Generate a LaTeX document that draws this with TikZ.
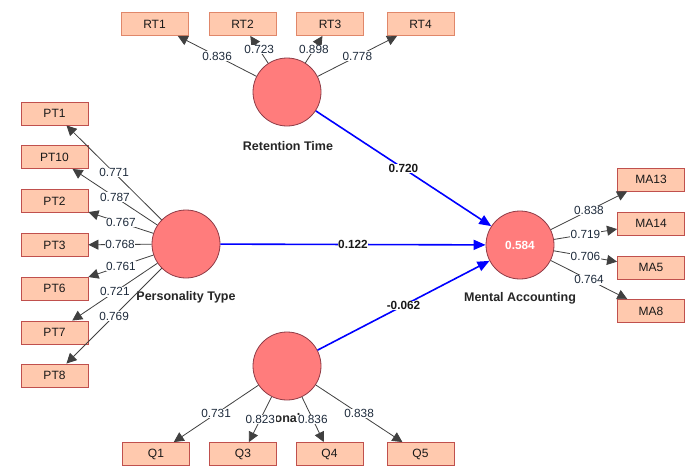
\documentclass[tikz,border=0pt]{standalone}
\usepackage{fontspec}
\setmainfont{Liberation Sans}
\usetikzlibrary{arrows.meta}
\definecolor{circfill}{HTML}{FF7C7C}
\definecolor{circdraw}{HTML}{8E3B46}
\definecolor{boxfill}{HTML}{FFC9AE}
\definecolor{boxdraw}{HTML}{C0504D}
\definecolor{rtdraw}{HTML}{E0876A}
\definecolor{numcol}{HTML}{1E2B3C}
\definecolor{pathblue}{HTML}{0000FF}
\begin{document}
\begin{tikzpicture}[x=1pt,y=-1pt,
  lv/.style={circle, draw=circdraw, fill=circfill, line width=0.8pt, minimum size=68pt, inner sep=0pt},
  ind/.style={rectangle, draw=boxdraw, fill=boxfill, line width=0.9pt, minimum width=67pt, minimum height=23pt, inner sep=0pt, text=black!90, font=\fontsize{12}{14}\selectfont},
  rtind/.style={ind, draw=rtdraw},
  ld/.style={draw=black!75, line width=0.8pt, -{Triangle[length=10pt,width=10pt]}},
  ldl/.style={fill=white, inner sep=0.6pt, text=numcol, font=\fontsize{11.8}{13}\selectfont},
  pth/.style={draw=pathblue, line width=1.6pt, -{Triangle[length=12pt,width=10pt]}},
  pl/.style={fill=white, inner sep=0.6pt, text=black!90, font=\bfseries\fontsize{11.8}{13}\selectfont},
  lvname/.style={text=black!85, font=\bfseries\fontsize{12.5}{14}\selectfont}]
\useasboundingbox (0,0) rectangle (694,466);
\fill[white] (0,0) rectangle (694,466);

% latent variables
\node[lv] (rt) at (287,92) {};
\node[lv] (pt) at (186,244) {};
\node[lv, text=white, font=\bfseries\fontsize{11.8}{13}\selectfont] (ma) at (520,245) {0.584};
\node[lv] (q) at (287,366) {};

% names
\node[lvname] (rtname) at (288,146) {Retention Time};
\node[lvname] (ptname) at (186,297) {Personality Type};
\node[lvname] (maname) at (520,298) {Mental Accounting};
\node[lvname] (qname) at (287.5,418) {onal};

% indicators
\node[rtind] (rt1) at (154.5,24) {RT1};
\node[rtind] (rt2) at (242.5,24) {RT2};
\node[rtind] (rt3) at (330,24) {RT3};
\node[rtind] (rt4) at (420.5,24) {RT4};

\node[ind] (pt1) at (54.5,113.5) {PT1};
\node[ind] (pt10) at (54.5,157) {PT10};
\node[ind] (pt2) at (54.5,201) {PT2};
\node[ind] (pt3) at (54.5,245) {PT3};
\node[ind] (pt6) at (54.5,288.5) {PT6};
\node[ind] (pt7) at (54.5,332.5) {PT7};
\node[ind] (pt8) at (54.5,375.5) {PT8};

\node[ind] (q1) at (156,454) {Q1};
\node[ind] (q3) at (243,454) {Q3};
\node[ind] (q4) at (329.5,454) {Q4};
\node[ind] (q5) at (420.5,454) {Q5};

\node[ind] (ma13) at (651,179.5) {MA13};
\node[ind] (ma14) at (651,223.5) {MA14};
\node[ind] (ma5) at (651,267.5) {MA5};
\node[ind] (ma8) at (651,311) {MA8};

% loadings
\foreach \b/\v in {rt1/0.836, rt2/0.723, rt3/0.898, rt4/0.778}
  \draw[ld] (rt) -- node[ldl]{\v} (\b);
\foreach \b/\v in {pt1/0.771, pt10/0.787, pt2/0.767, pt3/0.768, pt6/0.761, pt7/0.721, pt8/0.769}
  \draw[ld] (pt) -- node[ldl]{\v} (\b);
\foreach \b/\v in {q1/0.731, q3/0.823, q4/0.836, q5/0.838}
  \draw[ld] (q) -- node[ldl]{\v} (\b);
\foreach \b/\v in {ma13/0.838, ma14/0.719, ma5/0.706, ma8/0.764}
  \draw[ld] (ma) -- node[ldl]{\v} (\b);

% structural paths
\draw[pth] (rt) -- node[pl]{0.720} (ma);
\draw[pth] (pt) -- node[pl]{0.122} (ma);
\draw[pth] (q) -- node[pl]{-0.062} (ma);
\end{tikzpicture}
\end{document}
